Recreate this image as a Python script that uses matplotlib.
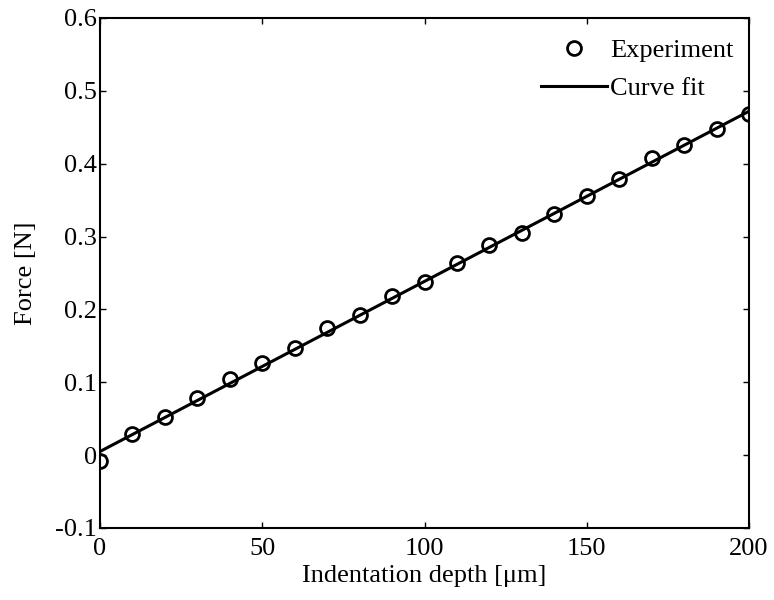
import matplotlib
matplotlib.use("Agg")
import matplotlib.pyplot as plt

# Indentation test: measured force vs depth, plus linear curve fit
depth_um = [0, 10, 20, 30, 40, 50, 60, 70, 80, 90, 100,
            110, 120, 130, 140, 150, 160, 170, 180, 190, 200]
force_n = [-0.008, 0.029, 0.053, 0.078, 0.104, 0.126, 0.147, 0.174, 0.192, 0.219, 0.238,
           0.264, 0.289, 0.305, 0.331, 0.356, 0.379, 0.408, 0.426, 0.448, 0.468]

fit_depth = [0, 200]
fit_force = [0.005, 0.472]

x_ticks = [0, 50, 100, 150, 200]
y_ticks = [-0.1, 0, 0.1, 0.2, 0.3, 0.4, 0.5, 0.6]
y_tick_labels = ["-0.1", "0", "0.1", "0.2", "0.3", "0.4", "0.5", "0.6"]

plt.rcParams["font.family"] = ["Liberation Serif", "DejaVu Serif"]

fig = plt.figure(figsize=(7.74, 6.0), dpi=100)
ax = fig.add_axes([100 / 774, 72 / 600, 649 / 774, 510 / 600])

ax.plot(depth_um, force_n, linestyle="none", marker="o", markersize=10,
        markerfacecolor="none", markeredgecolor="black", markeredgewidth=2,
        label="Experiment", zorder=3)
ax.plot(fit_depth, fit_force, color="black", linewidth=2.2, label="Curve fit", zorder=2)

ax.set_xlim(0, 200)
ax.set_ylim(-0.1, 0.6)
ax.set_xticks(x_ticks)
ax.set_yticks(y_ticks)
ax.set_yticklabels(y_tick_labels)
ax.tick_params(direction="in", length=4, width=1, top=True, right=True, labelsize=19)
ax.tick_params(axis="x", pad=7)
ax.tick_params(axis="y", pad=2)
for spine in ax.spines.values():
    spine.set_linewidth(1.5)

ax.set_xlabel("Indentation depth [\u03bcm]", fontsize=19, labelpad=4)
ax.set_ylabel("Force [N]", fontsize=19, labelpad=13)

ax.legend(loc="upper right", bbox_to_anchor=(1.0, 0.99), frameon=False, fontsize=19,
          handlelength=2.5, handletextpad=0.1, labelspacing=0.55, borderaxespad=0.2)

fig.savefig("out.png", dpi=100)
plt.close(fig)
